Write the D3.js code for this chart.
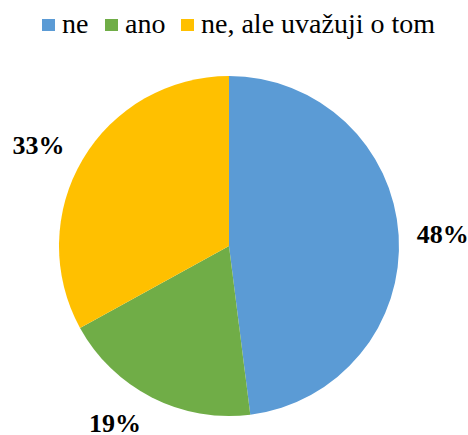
<!doctype html>
<html>
<head>
<meta charset="utf-8">
<style>
  body { margin: 0; background: #fff; }
</style>
</head>
<body>
<script src="https://d3js.org/d3.v7.min.js"></script>
<script>
  // data
  var categories = ["ne", "ano", "ne, ale uvažuji o tom"];
  var values = [48, 19, 33];
  var colors = ["#5B9BD5", "#70AD47", "#FFC000"];

  var w = 468, h = 435;
  var cx = 229, cy = 246, r = 170;

  var svg = d3.select("body").append("svg")
    .attr("width", w)
    .attr("height", h);

  var color = d3.scaleOrdinal().domain(categories).range(colors);

  var pie = d3.pie().sort(null).value(function(d) { return d.value; });
  var data = categories.map(function(c, i) { return { name: c, value: values[i] }; });
  var arcs = pie(data);

  var arc = d3.arc().innerRadius(0).outerRadius(r);

  var g = svg.append("g").attr("transform", "translate(" + cx + "," + cy + ")");

  g.selectAll("path")
    .data(arcs)
    .enter().append("path")
    .attr("d", arc)
    .style("fill", function(d) { return color(d.data.name); });

  // outside-end labels, box placed just outside the rim
  var total = d3.sum(values);
  var pad = 18;
  var labels = g.selectAll("text")
    .data(arcs)
    .enter().append("text")
    .attr("text-anchor", "middle")
    .attr("dy", "0.35em")
    .attr("font-family", "Liberation Serif")
    .attr("font-size", 26)
    .attr("font-weight", "bold")
    .text(function(d) { return Math.round(d.value / total * 100) + "%"; });

  labels.attr("transform", function(d) {
    var a = (d.startAngle + d.endAngle) / 2;
    var bb = this.getBBox();
    var s = Math.sin(a), c = -Math.cos(a);
    var x = (r + pad) * s + (s < 0 ? -1.1 : 1) * bb.width / 2;
    var y = (r + pad) * c + c * bb.height * 0.75 / 2;
    return "translate(" + x + "," + y + ")";
  });

  // legend
  var legend = svg.append("g");
  var lx = [42, 105, 181];
  var item = legend.selectAll("g")
    .data(categories)
    .enter().append("g")
    .attr("transform", function(d, i) { return "translate(" + lx[i] + ",0)"; });

  item.append("rect")
    .attr("x", 0).attr("y", 19)
    .attr("width", 13).attr("height", 12)
    .style("fill", function(d) { return color(d); });

  item.append("text")
    .attr("x", 20).attr("y", 33)
    .attr("font-family", "Liberation Serif")
    .attr("font-size", 28)
    .text(function(d) { return d; });
</script>
</body>
</html>
